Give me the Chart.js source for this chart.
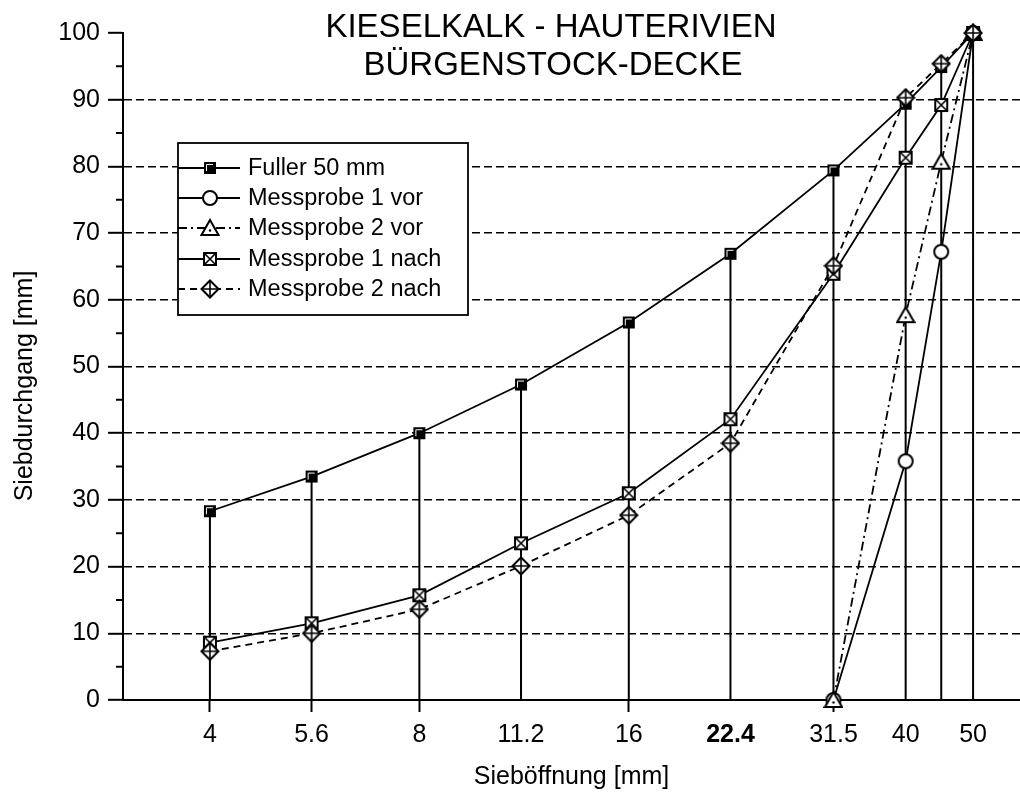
<!DOCTYPE html>
<html>
<head>
<meta charset="utf-8">
<title>Kieselkalk - Hauterivien, Bürgenstock-Decke</title>
<script src="https://cdn.jsdelivr.net/npm/chart.js@4/dist/chart.umd.min.js"></script>
<style>
  html, body { margin: 0; padding: 0; background: #fff; overflow: hidden; }
  canvas { display: block; }
</style>
</head>
<body>
<canvas id="chart" width="1020" height="798"></canvas>
<script>
// ---- texts ----
const chartTitle = ['KIESELKALK - HAUTERIVIEN', 'BÜRGENSTOCK-DECKE'];
const xAxisTitle = 'Sieböffnung [mm]';
const yAxisTitle = 'Siebdurchgang [mm]';
const seriesLabels = ['Fuller 50 mm', 'Messprobe 1 vor', 'Messprobe 2 vor', 'Messprobe 1 nach', 'Messprobe 2 nach'];

// ---- sieve openings (mm) ----
const sieveSizes = [4, 5.6, 8, 11.2, 16, 22.4, 31.5, 40, 45, 50];
const coarseSizes = [31.5, 40, 45, 50];

// ---- passing percentages ----
const fuller50   = [28.3, 33.5, 40.0, 47.3, 56.6, 66.9, 79.4, 89.4, 94.9, 100];
const probe1Vor  = [0, 35.8, 67.2, 100];
const probe2Vor  = [0, 57.7, 80.7, 100];
const probe1Nach = [8.6, 11.5, 15.7, 23.5, 31.0, 42.1, 63.9, 81.3, 89.2, 100];
const probe2Nach = [7.3, 10.0, 13.6, 20.1, 27.7, 38.5, 65.1, 90.3, 95.4, 100];

// ---- axis ticks ----
const xTickValues = [4, 5.6, 8, 11.2, 16, 22.4, 31.5, 40, 50];
const xTickLabels = ['4', '5.6', '8', '11.2', '16', '22.4', '31.5', '40', '50'];
const xTickMarked = [4, 5.6, 8, 16, 31.5];
const xBoldTick = 22.4;
const yTickValues = [0, 10, 20, 30, 40, 50, 60, 70, 80, 90, 100];
const yMinorTicks = [5, 15, 25, 35, 45, 55, 65, 75, 85, 95];

const FONT = "'Liberation Sans', Arial, Helvetica, sans-serif";
const INK = '#000';

// ---- marker glyphs ----
function glyph(size, paint) {
  const c = document.createElement('canvas');
  c.width = size; c.height = size;
  const g = c.getContext('2d');
  g.lineWidth = 2;
  g.strokeStyle = INK;
  g.fillStyle = '#fff';
  paint(g, size);
  return c;
}
const markSquareFilled = glyph(14, (g) => {
  g.fillStyle = INK;
  g.fillRect(1, 1, 12, 12);
  g.strokeStyle = '#fff';
  g.lineWidth = 1;
  g.beginPath();
  g.moveTo(3.5, 3.5); g.lineTo(3.5, 10);
  g.moveTo(3.5, 3.5); g.lineTo(10, 3.5);
  g.stroke();
});
const markCircle = glyph(18, (g) => {
  g.beginPath(); g.arc(9, 9, 7, 0, Math.PI * 2);
  g.fill(); g.stroke();
});
const markTriangle = glyph(20, (g) => {
  g.beginPath();
  g.moveTo(10, 2); g.lineTo(18.5, 17); g.lineTo(1.5, 17); g.closePath();
  g.fill(); g.stroke();
  g.fillStyle = INK;
  g.beginPath(); g.arc(10, 12.5, 1.2, 0, Math.PI * 2); g.fill();
});
const markSquareCross = glyph(16, (g) => {
  g.beginPath(); g.rect(2, 2, 12, 12); g.fill(); g.stroke();
  g.lineWidth = 1.6;
  g.beginPath();
  g.moveTo(2, 2); g.lineTo(14, 14);
  g.moveTo(14, 2); g.lineTo(2, 14);
  g.stroke();
});
const markDiamondPlus = glyph(20, (g) => {
  g.beginPath();
  g.moveTo(10, 1.5); g.lineTo(18.5, 10); g.lineTo(10, 18.5); g.lineTo(1.5, 10); g.closePath();
  g.fill(); g.stroke();
  g.lineWidth = 1.6;
  g.beginPath();
  g.moveTo(10, 1.5); g.lineTo(10, 18.5);
  g.moveTo(1.5, 10); g.lineTo(18.5, 10);
  g.stroke();
});

const toPoints = (xs, ys) => xs.map((x, i) => ({ x: x, y: ys[i] }));

// vertical drop lines from the Fuller curve down to 0
const dropLines = [];
sieveSizes.forEach((s, i) => {
  dropLines.push({ x: s, y: 0 }, { x: s, y: fuller50[i] }, { x: s, y: null });
});

function series(label, data, marker, dash, order) {
  return {
    label: label,
    data: data,
    borderColor: INK,
    backgroundColor: INK,
    borderWidth: 1.8,
    borderDash: dash,
    pointStyle: marker,
    pointRadius: 7,
    tension: 0,
    clip: false,
    order: order
  };
}

const datasets = [
  series(seriesLabels[0], toPoints(sieveSizes, fuller50), markSquareFilled, [], 5),
  series(seriesLabels[1], toPoints(coarseSizes, probe1Vor), markCircle, [], 4),
  series(seriesLabels[2], toPoints(coarseSizes, probe2Vor), markTriangle, [9, 4, 2, 4], 3),
  series(seriesLabels[3], toPoints(sieveSizes, probe1Nach), markSquareCross, [], 2),
  series(seriesLabels[4], toPoints(sieveSizes, probe2Nach), markDiamondPlus, [7, 5], 1),
  {
    label: 'drop',
    data: dropLines,
    borderColor: INK,
    borderWidth: 2,
    pointRadius: 0,
    spanGaps: false,
    order: 10
  }
];

// title, y-axis title, minor y ticks and the boxed legend
const overlay = {
  id: 'overlay',
  afterDatasetsDraw(chart) {
    const ctx = chart.ctx;
    const box = { x: 178, y: 143, w: 290, h: 172 };
    ctx.save();
    ctx.fillStyle = '#fff';
    ctx.fillRect(box.x, box.y, box.w, box.h);
    ctx.strokeStyle = INK;
    ctx.lineWidth = 1.8;
    ctx.setLineDash([]);
    ctx.strokeRect(box.x, box.y, box.w, box.h);
    ctx.font = '23.5px ' + FONT;
    ctx.textAlign = 'left';
    ctx.textBaseline = 'middle';
    for (let i = 0; i < 5; i++) {
      const ds = chart.data.datasets[i];
      const y = Math.round(168 + i * 30.2);
      ctx.strokeStyle = INK;
      ctx.lineWidth = ds.borderWidth;
      ctx.setLineDash(ds.borderDash);
      ctx.beginPath();
      ctx.moveTo(box.x, y);
      ctx.lineTo(box.x + 62, y);
      ctx.stroke();
      ctx.setLineDash([]);
      const m = ds.pointStyle;
      ctx.drawImage(m, 210 - m.width / 2, y - m.height / 2);
      ctx.fillStyle = INK;
      ctx.fillText(ds.label, 248, y + 1);
    }
    ctx.restore();
  },
  afterDraw(chart) {
    const ctx = chart.ctx;
    const ys = chart.scales.y;
    ctx.save();
    ctx.strokeStyle = INK;
    ctx.lineWidth = 2;
    ctx.beginPath();
    yMinorTicks.forEach((v) => {
      const py = ys.getPixelForValue(v);
      ctx.moveTo(ys.right - 7, py);
      ctx.lineTo(ys.right, py);
    });
    ctx.stroke();

    ctx.fillStyle = INK;
    ctx.textAlign = 'center';
    ctx.textBaseline = 'alphabetic';
    ctx.font = '33px ' + FONT;
    ctx.fillText(chartTitle[0], 551, 37);
    ctx.fillText(chartTitle[1], 553, 75);

    ctx.font = '25px ' + FONT;
    ctx.textBaseline = 'middle';
    ctx.translate(25, 386);
    ctx.rotate(-Math.PI / 2);
    ctx.fillText(yAxisTitle, 0, 0);
    ctx.restore();
  }
};

new Chart(document.getElementById('chart'), {
  type: 'line',
  data: { datasets: datasets },
  plugins: [overlay],
  options: {
    responsive: false,
    animation: false,
    devicePixelRatio: 1,
    events: [],
    layout: { autoPadding: false, padding: { top: 33, left: 0, right: 0, bottom: 0 } },
    plugins: {
      legend: { display: false },
      tooltip: { enabled: false },
      title: { display: false }
    },
    scales: {
      x: {
        type: 'logarithmic',
        position: 'bottom',
        min: 3,
        max: 58.4,
        bounds: 'data',
        afterBuildTicks: (s) => { s.ticks = xTickValues.map((v) => ({ value: v })); },
        afterFit: (s) => { s.height = 98; },
        grid: {
          drawOnChartArea: false,
          drawTicks: true,
          tickLength: 12,
          tickWidth: 2,
          tickColor: (c) => (c.tick && xTickMarked.includes(c.tick.value)) ? INK : 'rgba(0,0,0,0)'
        },
        border: { display: true, color: INK, width: 2 },
        ticks: {
          autoSkip: false,
          maxRotation: 0,
          minRotation: 0,
          padding: 8,
          color: INK,
          font: (c) => ({ family: FONT, size: 25, weight: (c.tick && c.tick.value === xBoldTick) ? 'bold' : 'normal' }),
          callback: (v, i) => xTickLabels[i]
        },
        title: {
          display: true,
          text: xAxisTitle,
          color: INK,
          font: { family: FONT, size: 25 },
          padding: { top: 0, bottom: 6 }
        }
      },
      y: {
        type: 'linear',
        min: 0,
        max: 100,
        afterBuildTicks: (s) => { s.ticks = yTickValues.map((v) => ({ value: v })); },
        afterFit: (s) => { s.width = 123; },
        grid: {
          color: (c) => (c.tick && c.tick.value > 0 && c.tick.value < 100) ? INK : 'rgba(0,0,0,0)',
          lineWidth: 1.6,
          drawTicks: true,
          tickLength: 15,
          tickWidth: 2,
          tickColor: INK
        },
        border: { display: true, color: INK, width: 2, dash: [8, 4] },
        ticks: {
          padding: 8,
          color: INK,
          font: { family: FONT, size: 25 },
          callback: (v) => String(v)
        }
      }
    }
  }
});
</script>
</body>
</html>
